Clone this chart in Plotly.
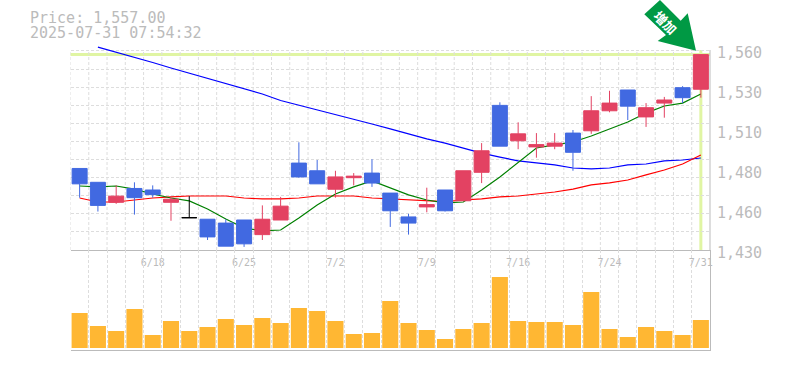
import plotly.graph_objects as go

W, H = 785, 370
PX_L, PX_R = 70.5, 710
PX_HEAD, PX_TOP, PX_MID, PX_BOT = 45, 50, 250, 350

index = list(range(35))
tick_index = [4, 9, 14, 19, 24, 29, 34]
tick_dates = ["6/18", "6/25", "7/2", "7/9", "7/16", "7/24", "7/31"]

price_ticks = [1560, 1534, 1508, 1482, 1456, 1430]
price_labels = ["1,560", "1,530", "1,510", "1,480", "1,460", "1,430"]

opens = [1483, 1474, 1461, 1470, 1469, 1461, 1451, 1450, 1447.5, 1449.5, 1440, 1449.5,
         1486.5, 1481.5, 1469.5, 1477, 1480, 1467, 1451.5, 1458, 1469, 1462, 1480.5, 1524,
         1501, 1497, 1497.5, 1506, 1507.5, 1520.5, 1534, 1516.5, 1525.5, 1535.5, 1534.5]
highs = [1483, 1474, 1472, 1474, 1472, 1465, 1465, 1450, 1450, 1449.5, 1459, 1464.5,
         1500, 1488.5, 1481.5, 1480, 1489, 1467, 1453.5, 1470.5, 1469, 1481.5, 1499.5, 1526,
         1513, 1506, 1506, 1508, 1530, 1533.5, 1534, 1525.5, 1529.5, 1536.5, 1557]
lows = [1464, 1455, 1460, 1453, 1464, 1449, 1451, 1436.5, 1432.5, 1432, 1436.5, 1449.5,
        1477, 1473, 1464, 1472, 1471, 1445, 1440, 1454.5, 1455, 1462, 1473.5, 1497.5,
        1495.5, 1490, 1495.5, 1481.5, 1505.5, 1519.5, 1514.5, 1510, 1516, 1525.5, 1529]
closes = [1473, 1459, 1465, 1464, 1466, 1463, 1451, 1438.5, 1432.5, 1434, 1450, 1458.5,
          1477.5, 1473, 1477.5, 1478, 1473.5, 1455.5, 1447.5, 1459.5, 1455.5, 1481.5, 1494.5, 1497.5,
          1505.5, 1498.5, 1499.5, 1493.5, 1520.5, 1525.5, 1523.5, 1522.5, 1527.5, 1529, 1557]

ma_short = [1471.6, 1471, 1471.6, 1469.6, 1466.4, 1463.8, 1461.9, 1456.7, 1450.2, 1444.3, 1442.4, 1443,
            1450.8, 1459.3, 1466.4, 1471, 1474.9, 1470.3, 1465.8, 1462.5, 1460.6, 1461.2, 1469, 1477.5,
            1487.2, 1496.3, 1498.3, 1500.2, 1504.1, 1508.6, 1513.2, 1519, 1523.6, 1525.5, 1531.4]
ma_mid = [1463.8, 1461.2, 1461.2, 1462.5, 1463.8, 1464.5, 1465.1, 1465.1, 1465.1, 1463.8, 1463.2, 1463.2,
          1463.8, 1465.1, 1465.1, 1465.1, 1463.8, 1463.2, 1462.5, 1461.9, 1461.5, 1462.5, 1463.2, 1464.5,
          1465.1, 1466.4, 1467.7, 1469.6, 1472.3, 1473.6, 1475.5, 1478.8, 1482, 1485.9, 1491.8]
ma_long = [None, 1561.9, 1558.7, 1555.5, 1551.9, 1548.3, 1545, 1541.5, 1537.9, 1534.7, 1531.4, 1527.2,
           1524.2, 1521, 1518.4, 1515.2, 1511.9, 1508.7, 1505.4, 1502.2, 1499.5, 1496.3, 1493, 1490.4,
           1487.9, 1486.6, 1485.3, 1483.3, 1482.7, 1483.3, 1485.3, 1485.9, 1487.9, 1488.5, 1489.8]
volumes = [35, 22, 17, 39, 13, 27, 17, 21, 29, 23, 30, 25, 40, 37, 27, 14, 15, 47,
           25, 18, 9, 19, 25, 71, 27, 26, 26, 23, 56, 19, 11, 21, 17, 13, 28]

doji_index = [6]

UP, DOWN, BAR = "#e34262", "#4169e1", "#ffb733"
GRID, AXIS, TEXT, LIME = "#dddddd", "#bbbbbb", "#bbbbbb", "#e0f5a3"
MONO = "DejaVu Sans Mono, monospace"

# The price axis carries a little headroom above 1,560 so the long average is not cut off there.
price_per_px = (price_ticks[0] - price_ticks[-1]) / (PX_MID - PX_TOP)
price_range = [price_ticks[-1], price_ticks[0] + (PX_TOP - PX_HEAD) * price_per_px]

fig = go.Figure()
for vals, col in ((ma_long, "#0000ff"), (ma_mid, "#ff0000"), (ma_short, "#008000")):
    fig.add_trace(go.Scatter(x=index, y=vals, mode="lines", line=dict(color=col, width=1.2),
                             hoverinfo="skip", xaxis="x", yaxis="y"))

regular = [i for i in index if i not in doji_index]
fig.add_trace(go.Candlestick(
    x=regular,
    open=[opens[i] for i in regular], high=[highs[i] for i in regular],
    low=[lows[i] for i in regular], close=[closes[i] for i in regular],
    increasing=dict(line=dict(color=UP, width=1), fillcolor=UP),
    decreasing=dict(line=dict(color=DOWN, width=1), fillcolor=DOWN),
    whiskerwidth=0, xaxis="x", yaxis="y3", hoverinfo="skip"))
fig.add_trace(go.Candlestick(
    x=doji_index,
    open=[opens[i] for i in doji_index], high=[highs[i] for i in doji_index],
    low=[lows[i] for i in doji_index], close=[closes[i] for i in doji_index],
    increasing=dict(line=dict(color="#000000", width=1), fillcolor="#000000"),
    decreasing=dict(line=dict(color="#000000", width=1), fillcolor="#000000"),
    whiskerwidth=0, xaxis="x", yaxis="y3", hoverinfo="skip"))

fig.add_trace(go.Bar(x=index, y=volumes, marker=dict(color=BAR, line=dict(width=0)),
                     xaxis="x2", yaxis="y2", hoverinfo="skip"))

xdom = [PX_L / W, PX_R / W]
grid_x = dict(showgrid=True, gridcolor=GRID, griddash="3px,2px", gridwidth=1, tick0=-0.5, dtick=1)


def px(x, y):
    return f"{x / W:.5f} {1 - y / H:.5f}"


arrow_px = [(660, 0), (644.3, 14.3), (666, 35), (657.7, 41), (696, 50.7), (687.7, 13.3), (680.7, 20.7)]
arrow_path = "M " + " L ".join(px(*p) for p in arrow_px) + " Z"

fig.update_layout(
    width=W, height=H, margin=dict(l=0, r=0, t=0, b=0, autoexpand=False),
    paper_bgcolor="white", plot_bgcolor="white", showlegend=False,
    boxgap=0.18, boxgroupgap=0, bargap=0.12,
    font=dict(family=MONO, color=TEXT),
    xaxis=dict(domain=xdom, anchor="y", range=[-0.5, 34.5], rangeslider=dict(visible=False),
               tickmode="array", tickvals=tick_index, ticktext=tick_dates, ticks="",
               tickfont=dict(size=10, color=TEXT), ticklabelstandoff=3, tickangle=0,
               showgrid=False, zeroline=False, showline=True, linecolor=AXIS, linewidth=1),
    xaxis2=dict(domain=xdom, anchor="y2", range=[-0.5, 34.5], showticklabels=False, ticks="",
                showgrid=False, zeroline=False, showline=True, linecolor=AXIS, linewidth=1,
                minor=grid_x),
    yaxis=dict(domain=[1 - PX_MID / H, 1 - PX_HEAD / H], anchor="x", side="right", range=price_range,
               tickmode="array", tickvals=price_ticks, ticktext=price_labels, ticks="",
               tickfont=dict(size=15, color=TEXT, family=MONO), ticklabelstandoff=6, ticklabelshift=3,
               showgrid=False, zeroline=False, showline=False,
               minor=dict(showgrid=True, gridcolor=GRID, griddash="3px,2px", gridwidth=1,
                          tick0=1430, dtick=130 / 11.05)),
    yaxis2=dict(domain=[1 - PX_BOT / H, 1 - PX_MID / H], anchor="x2", side="right", range=[-2, 98],
                showticklabels=False, ticks="", showgrid=False, zeroline=False,
                showline=True, linecolor=AXIS, linewidth=1),
    yaxis3=dict(overlaying="y", side="right", range=price_range, visible=False, showgrid=False),
    shapes=[
        # vertical grid of the price panel stops at the top of the scale
        *[dict(type="line", xref="x", yref="y", x0=i - 0.5, x1=i - 0.5,
               y0=price_ticks[-1], y1=price_ticks[0] - 0.65,
               line=dict(color=GRID, width=1, dash="3px,2px"), layer="below")
          for i in index],
        dict(type="line", xref="x domain", yref="y", x0=0, x1=1, y0=closes[-1], y1=closes[-1],
             line=dict(color=LIME, width=3), layer="below"),
        dict(type="line", xref="x", yref="y", x0=index[-1], x1=index[-1],
             y0=price_ticks[-1], y1=price_ticks[0],
             line=dict(color=LIME, width=3), layer="below"),
        dict(type="line", xref="paper", yref="y", x0=PX_R / W, x1=PX_R / W,
             y0=price_ticks[-1], y1=price_ticks[0], line=dict(color=AXIS, width=1)),
        dict(type="path", xref="paper", yref="paper", path=arrow_path,
             fillcolor="#009944", line=dict(width=0), layer="above"),
    ],
    annotations=[
        dict(text="Price: 1,557.00", xref="paper", yref="paper", x=29 / W, y=1 - 17.5 / H, xanchor="left",
             yanchor="middle", showarrow=False, height=15, borderpad=0, font=dict(size=15, color=TEXT, family=MONO)),
        dict(text="2025-07-31 07:54:32", xref="paper", yref="paper", x=29 / W, y=1 - 33 / H, xanchor="left",
             yanchor="middle", showarrow=False, height=15, borderpad=0, font=dict(size=15, color=TEXT, family=MONO)),
        dict(text="<b>増加</b>", xref="paper", yref="paper", x=666 / W, y=1 - 22 / H, xanchor="center",
             yanchor="middle", showarrow=False, textangle=45,
             font=dict(size=13, color="white", family="Noto Sans CJK JP")),
    ],
)

fig.write_html("out.html", config={"displayModeBar": False},
               post_script="document.body.style.margin='0';")
